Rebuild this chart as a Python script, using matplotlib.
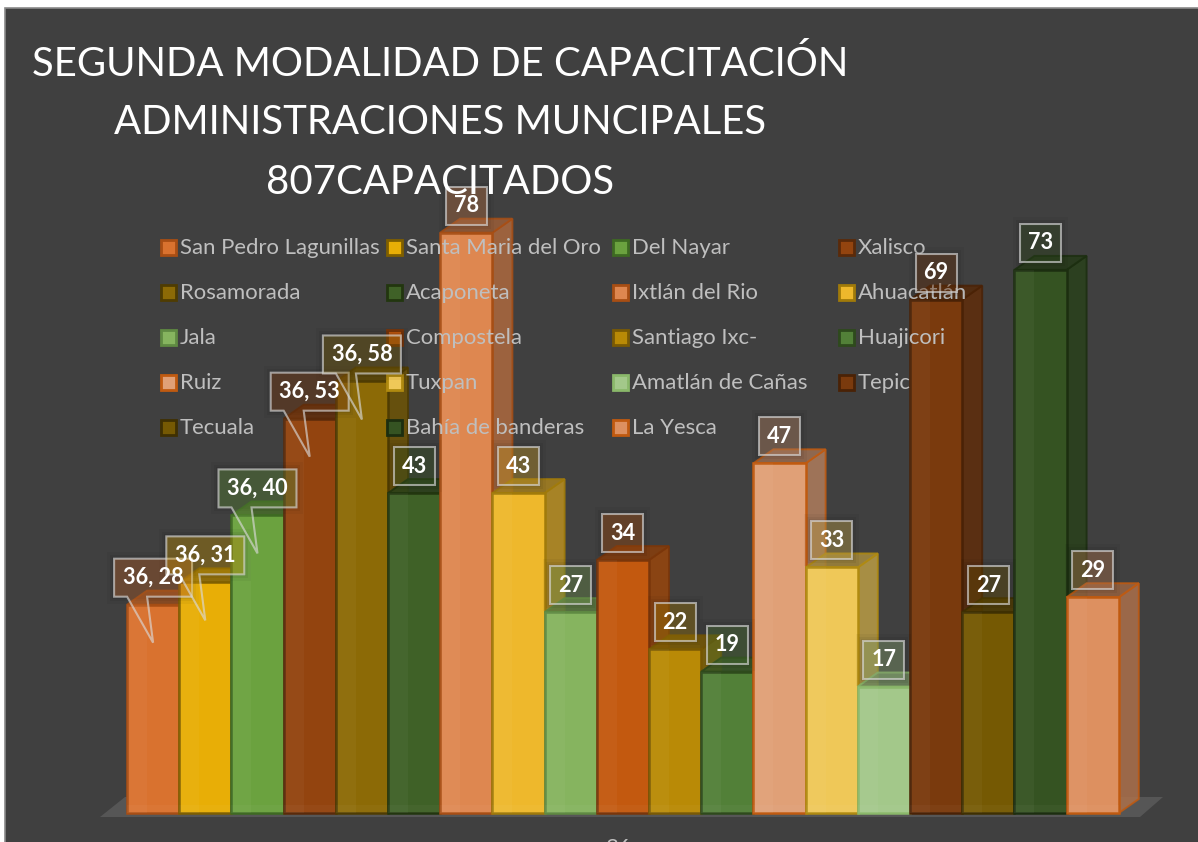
"""
Segunda modalidad de capacitacion: capacitados por municipio, drawn as
pseudo-3D columns on a dark background.
"""

import matplotlib
matplotlib.use('Agg')
import matplotlib.colors as mcolors
import matplotlib.pyplot as plt
from matplotlib.patches import Polygon, Rectangle

# ---------------------------------------------------------------------------
# Data
# ---------------------------------------------------------------------------
MUNICIPIOS = [
    'San Pedro Lagunillas', 'Santa Maria del Oro', 'Del Nayar', 'Xalisco',
    'Rosamorada', 'Acaponeta', 'Ixtlán del Rio', 'Ahuacatlán',
    'Jala', 'Compostela', 'Santiago Ixc-', 'Huajicori',
    'Ruiz', 'Tuxpan', 'Amatlán de Cañas', 'Tepic',
    'Tecuala', 'Bahía de banderas', 'La Yesca',
]
CAPACITADOS = [28, 31, 40, 53, 58, 43, 78, 43, 27, 34, 22, 19, 47, 33, 17, 69, 27, 73, 29]
ETIQUETAS = ['36, 28', '36, 31', '36, 40', '36, 53', '36, 58', '43', '78', '43', '27',
             '34', '22', '19', '47', '33', '17', '69', '27', '73', '29']
COLORES = [
    '#D9722F', '#E8AE06', '#6BA23F', '#93440F', '#8C6A06', '#3F6127', '#DE8750',
    '#EEB82C', '#86B45F', '#C3590F', '#B98A06', '#528038', '#E0A077', '#EFC858',
    '#A3C88A', '#7A3A0D', '#755903', '#355322', '#DD9060',
]
BORDES = [
    '#A84E14', '#7F5F00', '#3E6A22', '#5A2A0A', '#4F3C02', '#22360F', '#A84E14',
    '#A07A0A', '#5F8A42', '#7A360A', '#7A5A04', '#2E4A1C', '#C05A10', '#B08A10',
    '#8AB86A', '#4A2206', '#3F3002', '#1C2E10', '#C05A10',
]
TITULO = ['SEGUNDA MODALIDAD DE CAPACITACIÓN',
          'ADMINISTRACIONES MUNCIPALES',
          '807CAPACITADOS']
EJE_X = '36'

# ---------------------------------------------------------------------------
# Layout (pixels of the 1198x842 picture)
# ---------------------------------------------------------------------------
W, H = 1198, 842
BG = '#404040'
BASE_Y = 813          # baseline of the columns
PX_PER_UNIT = 7.44    # height of one person
LEFT_X = 127          # left edge of first column
BAR_W = 52.2
DEPTH_X, DEPTH_Y = 20, 14
LEG_X = [160, 386, 612, 838]
LEG_Y = [247, 292, 337, 382, 427]


def shade(color, f):
    r, g, b = mcolors.to_rgb(color)
    return (r * f, g * f, b * f)


def px(x, y):
    """Picture pixel (y down) to axes data coordinates."""
    return (x - LEFT_X) / BAR_W - 0.5, (BASE_Y - y) / PX_PER_UNIT


fig = plt.figure(figsize=(W / 100, H / 100), dpi=100, facecolor='white')
ax = fig.add_axes([0, 0, 1, 1])
ax.set_xlim(px(0, 0)[0], px(W, 0)[0])
ax.set_ylim(px(0, H)[1], px(0, 0)[1])
ax.axis('off')

plt.rcParams['font.family'] = ['Lato', 'DejaVu Sans']

dx = DEPTH_X / BAR_W
dy = DEPTH_Y / PX_PER_UNIT
half = 0.5

# chart area, white margin on the top and left with a thin grey frame
x0, y0 = px(5, 8)
x1, y1 = px(W + 10, H + 10)
ax.add_patch(Rectangle((x0, y1), x1 - x0, y0 - y1, facecolor=BG, edgecolor='#8a8a8a',
                       linewidth=1.2, zorder=0))

# floor
floor = [px(100, 817), px(1140, 817), px(1163, 797), px(125, 797)]
ax.add_patch(Polygon(floor, closed=True, facecolor='#565656', edgecolor='none', zorder=1))

# columns, left to right so each front hides the side of the previous one
for i, (val, col, edge) in enumerate(zip(CAPACITADOS, COLORES, BORDES)):
    z = 2 + i * 0.01
    side = [(i + half, 0), (i + half + dx, dy), (i + half + dx, val + dy), (i + half, val)]
    top = [(i - half, val), (i - half + dx, val + dy), (i + half + dx, val + dy), (i + half, val)]
    ax.add_patch(Polygon(side, closed=True, facecolor=shade(col, 0.78), edgecolor=edge,
                         linewidth=1.4, alpha=0.85, zorder=z))
    ax.add_patch(Polygon(top, closed=True, facecolor=shade(col, 0.7), edgecolor=edge,
                         linewidth=1.4, alpha=0.85, zorder=z))
    ax.bar(i, val, width=1.0, color=col, edgecolor=edge, linewidth=1.8, zorder=z + 0.001)
    # faint bevel lines inside the front face
    ax.add_patch(Rectangle((i - half, 0), dx, val, facecolor='white', alpha=0.035,
                           edgecolor='none', zorder=z + 0.002))
    ax.add_patch(Rectangle((i - half, 0), 1.0, dy * 0.6, facecolor='white', alpha=0.03,
                           edgecolor='none', zorder=z + 0.002))

# legend, text lies over the columns
for i, nombre in enumerate(MUNICIPIOS):
    lx = LEG_X[i % 4]
    ly = LEG_Y[i // 4]
    a = px(lx + 1, ly + 8)
    b = px(lx + 16, ly - 7)
    ax.add_patch(Rectangle(a, b[0] - a[0], b[1] - a[1], facecolor=COLORES[i],
                           edgecolor=BORDES[i], linewidth=2.0, zorder=5))
    tx, ty = px(lx + 20, ly + 1)
    ax.text(tx, ty, nombre, color='#BFBFBF', fontsize=15.9, va='center', ha='left', zorder=5)

# data labels, above the columns; the ones with a category also have a pointer
BOX_H = 38 / PX_PER_UNIT
GAP = 8 / PX_PER_UNIT
TIP = 38 / PX_PER_UNIT
for i, (val, txt, col) in enumerate(zip(CAPACITADOS, ETIQUETAS, COLORES)):
    wide = ',' in txt
    bw = (78 if wide else 41) / BAR_W
    b0 = val + GAP
    xl = i - bw / 2
    xr = i + bw / 2
    if wide:
        nl = xl + 13 / BAR_W
        nr = xl + 33 / BAR_W
        pts = [(xl, b0), (nl, b0), (i, val - TIP), (nr, b0), (xr, b0), (xr, b0 + BOX_H), (xl, b0 + BOX_H)]
    else:
        pts = [(xl, b0), (xr, b0), (xr, b0 + BOX_H), (xl, b0 + BOX_H)]
    # soft shadow
    for k, al in ((7, 0.04), (4, 0.05), (2, 0.06)):
        off = k / BAR_W
        ax.add_patch(Rectangle((xl - off, b0 - k / PX_PER_UNIT), bw + 2 * off,
                               BOX_H + 2 * k / PX_PER_UNIT, facecolor='black', alpha=al,
                               edgecolor='none', zorder=6))
    ax.add_patch(Polygon(pts, closed=True, facecolor=(*mcolors.to_rgb(col), 0.32),
                         edgecolor=(0.85, 0.85, 0.85, 0.65), linewidth=1.5, zorder=6.1))
    ax.text(i, b0 + BOX_H / 2, txt, color='white', fontsize=15.6, fontweight='bold',
            ha='center', va='center', zorder=7)

# title
for linea, y_t in zip(TITULO, (64, 122, 182)):
    tx, ty = px(440, y_t)
    ax.text(tx, ty, linea, color='white', fontsize=28.9, ha='center', va='center', zorder=8)

# category axis label, cut off by the picture edge
tx, ty = px(618, 848)
ax.text(tx, ty, EJE_X, color='#BFBFBF', fontsize=16, ha='center', va='center', zorder=5)

fig.savefig('out.png', dpi=100, facecolor='white')
plt.close(fig)
